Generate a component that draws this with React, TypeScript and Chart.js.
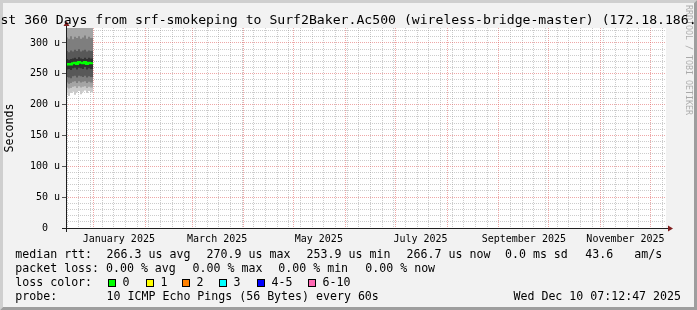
import { useEffect, useRef } from 'react';
import { Chart, registerables } from 'chart.js';

Chart.register(...registerables);

// ---------------- text ----------------
const TITLE = 'Last 360 Days from srf-smokeping to Surf2Baker.Ac500 (wireless-bridge-master) (172.18.186.5)';
const Y_TITLE = 'Seconds';
const WATERMARK = 'RRDTOOL / TOBI OETIKER';

// ---------------- time axis ----------------
const START_UTC = Date.UTC(2024, 11, 15, 7, 12, 47); // now - 360 days
const SPAN_DAYS = 360;
const FIRST_WEEK = '2024-12-16';
const MONTH_GRID = [
  '2025-01-01', '2025-02-01', '2025-03-01', '2025-04-01', '2025-05-01', '2025-06-01',
  '2025-07-01', '2025-08-01', '2025-09-01', '2025-10-01', '2025-11-01', '2025-12-01',
];
const MONTH_LABEL_DATES = ['2025-01-01', '2025-03-01', '2025-05-01', '2025-07-01', '2025-09-01', '2025-11-01'];
const MONTH_LABELS = ['January 2025', 'March 2025', 'May 2025', 'July 2025', 'September 2025', 'November 2025'];
const LABEL_OFFSET_DAYS = 15;

// ---------------- value axis (microseconds) ----------------
const Y_MAX = 324.3;
const Y_TICKS = [0, 10, 20, 30, 40, 50, 60, 70, 80, 90, 100, 110, 120, 130, 140, 150, 160, 170, 180, 190, 200, 210, 220, 230, 240, 250, 260, 270, 280, 290, 300, 310, 320];
const Y_MAJOR = [0, 50, 100, 150, 200, 250, 300];
const Y_LABELS = ['0  ', '50 u', '100 u', '150 u', '200 u', '250 u', '300 u'];

// ---------------- data (days since start, microseconds) ----------------
const SAMPLE_DAY = [0, 1.2, 2.4, 3.6, 4.8, 6.0, 7.2, 8.4, 9.6, 10.8, 12.0, 13.2, 14.4, 15.6, 16.2];
const MEDIAN_RTT = [253, 265, 266, 265, 267, 268, 266, 269, 268, 267, 269, 266, 268, 267, 267];
const PING_10 = [334, 336, 335, 337, 334, 336, 335, 338, 334, 336, 335, 337, 336, 335, 335];
const PING_9 = [327, 330, 329, 331, 328, 330, 331, 329, 330, 328, 331, 329, 330, 329, 329];
const PING_8 = [300, 309, 307, 311, 306, 310, 308, 311, 307, 309, 312, 307, 310, 308, 308];
const PING_7 = [276, 287, 285, 288, 286, 289, 287, 290, 286, 288, 289, 286, 288, 287, 287];
const PING_6 = [262, 274, 273, 274, 275, 276, 274, 277, 275, 274, 276, 274, 276, 275, 275];
const PING_5 = [246, 257, 258, 256, 259, 260, 257, 260, 259, 258, 261, 257, 259, 258, 258];
const PING_4 = [236, 245, 244, 243, 246, 247, 244, 247, 246, 245, 247, 244, 246, 245, 245];
const PING_3 = [227, 236, 234, 235, 237, 238, 235, 238, 236, 237, 238, 235, 237, 236, 236];
const PING_2 = [217, 228, 226, 227, 229, 230, 227, 230, 228, 229, 230, 227, 229, 228, 228];
const PING_1 = [206, 218, 214, 219, 221, 216, 220, 222, 217, 221, 223, 219, 222, 220, 220];

// ---------------- legend ----------------
const MEDIAN_ITEMS = ['266.3 us avg', '270.9 us max', '253.9 us min', '266.7 us now', '0.0 ms sd', '43.6', 'am/s'];
const LOSS_ITEMS = ['0.00 % avg', '0.00 % max', '0.00 % min', '0.00 % now'];
const LOSS_LABELS = ['0', '1', '2', '3', '4-5', '6-10'];
const LOSS_COLORS = ['#00ff00', '#ffff00', '#ff8000', '#00ffff', '#0000ff', '#ff69b4'];
const PROBE_TEXT = '10 ICMP Echo Pings (56 Bytes) every 60s';
const TIMESTAMP = 'Wed Dec 10 07:12:47 2025';

// ---------------- styles ----------------
const MONO = '"DejaVu Sans Mono", monospace';
const GRID = 'rgba(143,143,143,0.45)';
const MGRID = 'rgba(222,79,79,0.5)';
const SMOKE = ['#cacaca', '#a4a4a4', '#7e7e7e', '#585858', '#323232'];

const dayOf = (iso: string) => (Date.parse(iso + 'T00:00:00Z') - START_UTC) / 86400000;
const key = (v: number) => v.toFixed(3);

const tickType = new Map<string, string>();
const tickLabel = new Map<string, string>();
const xTicks: number[] = [];
for (let d = dayOf(FIRST_WEEK); d < SPAN_DAYS; d += 7) {
  tickType.set(key(d), 'minor');
}
MONTH_GRID.forEach((m) => tickType.set(key(dayOf(m)), 'major'));
MONTH_LABEL_DATES.forEach((m, i) => {
  const v = dayOf(m) + LABEL_OFFSET_DAYS;
  if (!tickType.has(key(v))) tickType.set(key(v), 'label');
  tickLabel.set(key(v), MONTH_LABELS[i]);
});
tickType.forEach((_t, k) => xTicks.push(parseFloat(k)));
xTicks.sort((a, b) => a - b);

const pts = (arr: number[]) => SAMPLE_DAY.map((d, i) => ({ x: d, y: arr[i] }));
const edge = (arr: number[], color: string | null) => ({
  data: pts(arr),
  borderWidth: 0,
  borderColor: 'rgba(0,0,0,0)',
  pointRadius: 0,
  stepped: 'after' as const,
  fill: color ? '+1' : false,
  backgroundColor: color || 'rgba(0,0,0,0)',
});

const rrdPlugin = {
  id: 'rrdFrame',
  beforeDraw(chart: any) {
    const { ctx, width: w, height: h, chartArea: a } = chart;
    const b = 3;
    ctx.save();
    ctx.fillStyle = '#f2f2f2';
    ctx.fillRect(0, 0, w, h);
    ctx.fillStyle = '#cfcfcf';
    ctx.beginPath();
    ctx.moveTo(0, h); ctx.lineTo(b, h - b); ctx.lineTo(b, b); ctx.lineTo(w - b, b); ctx.lineTo(w, 0); ctx.lineTo(0, 0);
    ctx.closePath(); ctx.fill();
    ctx.fillStyle = '#9e9e9e';
    ctx.beginPath();
    ctx.moveTo(b, h - b); ctx.lineTo(w - b, h - b); ctx.lineTo(w - b, b); ctx.lineTo(w, 0); ctx.lineTo(w, h); ctx.lineTo(0, h);
    ctx.closePath(); ctx.fill();
    ctx.fillStyle = '#ffffff';
    ctx.fillRect(a.left, a.top, a.right - a.left, a.bottom - a.top);
    ctx.restore();
  },
  afterDatasetsDraw(chart: any) {
    const { ctx, chartArea: a } = chart;
    const L = Math.round(a.left), R = Math.round(a.right), T = Math.round(a.top), B = Math.round(a.bottom);
    ctx.save();
    ctx.strokeStyle = 'rgb(31,31,31)';
    ctx.lineWidth = 1;
    ctx.beginPath();
    ctx.moveTo(L - 4, B + 0.5); ctx.lineTo(R + 4, B + 0.5);
    ctx.moveTo(L + 0.5, B + 4); ctx.lineTo(L + 0.5, T - 4);
    ctx.stroke();
    ctx.fillStyle = 'rgb(128,31,31)';
    ctx.beginPath();
    ctx.moveTo(R + 2, B + 0.5 - 3); ctx.lineTo(R + 2, B + 0.5 + 3); ctx.lineTo(R + 7, B + 0.5);
    ctx.closePath(); ctx.fill();
    ctx.beginPath();
    ctx.moveTo(L + 0.5 - 3, T - 2); ctx.lineTo(L + 0.5 + 3, T - 2); ctx.lineTo(L + 0.5, T - 7);
    ctx.closePath(); ctx.fill();
    ctx.restore();
  },
  afterDraw(chart: any) {
    const { ctx, width: w, chartArea: a } = chart;
    ctx.save();
    ctx.fillStyle = '#000';
    // title
    ctx.font = `13.15px ${MONO}`;
    ctx.textAlign = 'center';
    ctx.textBaseline = 'alphabetic';
    ctx.fillText(TITLE, w / 2, 24);
    // y title
    ctx.font = `11.6px ${MONO}`;
    ctx.save();
    ctx.translate(10, (a.top + a.bottom) / 2);
    ctx.rotate(-Math.PI / 2);
    ctx.textBaseline = 'middle';
    ctx.fillText(Y_TITLE, 0, 0);
    ctx.restore();
    // watermark
    ctx.save();
    ctx.fillStyle = 'rgba(0,0,0,0.3)';
    ctx.font = `8.3px ${MONO}`;
    ctx.translate(688, 5);
    ctx.rotate(Math.PI / 2);
    ctx.textAlign = 'left';
    ctx.textBaseline = 'middle';
    ctx.fillText(WATERMARK, 0, 0);
    ctx.restore();
    // legend
    ctx.font = `11.6px ${MONO}`;
    ctx.textAlign = 'left';
    ctx.textBaseline = 'alphabetic';
    const y1 = 258.3, y2 = 272.3, y3 = 286.3, y4 = 300.3;
    const x0 = 15.3;
    ctx.fillText('median rtt:', x0, y1);
    const mx = [106.6, 206.6, 306.6, 406.6, 505, 585.3, 634.3];
    MEDIAN_ITEMS.forEach((t, i) => ctx.fillText(t, mx[i], y1));
    ctx.fillText('packet loss:', x0, y2);
    const lx = [106, 192.6, 278.3, 365.3];
    LOSS_ITEMS.forEach((t, i) => ctx.fillText(t, lx[i], y2));
    ctx.fillText('loss color:', x0, y3);
    const bx = [108, 146, 182, 219, 257, 308];
    LOSS_LABELS.forEach((t, i) => {
      ctx.fillStyle = LOSS_COLORS[i];
      ctx.fillRect(bx[i], 279, 8, 8);
      ctx.strokeStyle = '#000';
      ctx.lineWidth = 1;
      ctx.strokeRect(bx[i] + 0.5, 279.5, 7, 7);
      ctx.fillStyle = '#000';
      ctx.fillText(t, bx[i] + 14.6, y3);
    });
    ctx.fillText('probe:', x0, y4);
    ctx.fillText(PROBE_TEXT, 106.6, y4);
    ctx.textAlign = 'right';
    ctx.fillText(TIMESTAMP, 681, y4);
    ctx.restore();
  },
};

export default function App() {
  const ref = useRef<HTMLCanvasElement>(null);
  useEffect(() => {
    const canvas = ref.current;
    if (!canvas) return;
    const chart = new Chart(canvas, {
      type: 'line',
      data: {
        datasets: [
          {
            data: pts(MEDIAN_RTT),
            borderColor: '#00ff00',
            borderWidth: 2,
            pointRadius: 0,
            stepped: 'after',
            fill: false,
          } as any,
          edge(PING_6, SMOKE[4]), edge(PING_5, null),
          edge(PING_7, SMOKE[3]), edge(PING_4, null),
          edge(PING_8, SMOKE[2]), edge(PING_3, null),
          edge(PING_9, SMOKE[1]), edge(PING_2, null),
          edge(PING_10, SMOKE[0]), edge(PING_1, null),
        ],
      },
      options: {
        animation: false,
        responsive: false,
        devicePixelRatio: 1,
        events: [],
        layout: { padding: { left: 0, top: 28, right: 31, bottom: 0 } },
        plugins: {
          legend: { display: false },
          title: { display: false },
          tooltip: { enabled: false },
        },
        scales: {
          x: {
            type: 'linear',
            min: 0,
            max: SPAN_DAYS,
            afterBuildTicks: (s: any) => { s.ticks = xTicks.map((v) => ({ value: v })); },
            afterFit: (s: any) => { s.height = 82; },
            grid: {
              drawTicks: false,
              lineWidth: 1,
              color: (c: any) => {
                const t = c.tick ? tickType.get(key(c.tick.value)) : undefined;
                return t === 'major' ? MGRID : t === 'minor' ? GRID : 'rgba(0,0,0,0)';
              },
            },
            border: { display: false, dash: [1, 1] },
            ticks: {
              autoSkip: false,
              maxRotation: 0,
              minRotation: 0,
              padding: 5,
              color: '#000',
              font: { family: MONO, size: 10 },
              callback: (v: any) => tickLabel.get(key(Number(v))) || '',
            },
          },
          y: {
            type: 'linear',
            min: 0,
            max: Y_MAX,
            afterBuildTicks: (s: any) => { s.ticks = Y_TICKS.map((v) => ({ value: v })); },
            afterFit: (s: any) => { s.width = 66; },
            grid: {
              drawTicks: true,
              tickLength: 4,
              lineWidth: 1,
              color: (c: any) => (c.tick && Y_MAJOR.includes(c.tick.value) ? MGRID : GRID),
              tickColor: (c: any) => (c.tick && Y_MAJOR.includes(c.tick.value) ? '#555' : 'rgba(0,0,0,0)'),
            },
            border: { display: false, dash: [1, 1] },
            ticks: {
              autoSkip: false,
              padding: 2,
              color: '#000',
              font: { family: MONO, size: 10 },
              callback: (v: any) => {
                const i = Y_MAJOR.indexOf(Number(v));
                return i >= 0 ? Y_LABELS[i] : '';
              },
            },
          },
        },
      } as any,
      plugins: [rrdPlugin],
    });
    return () => chart.destroy();
  }, []);
  return (
    <div style={{ position: 'absolute', left: 0, top: 0, width: 697, height: 310 }}>
      <canvas ref={ref} width={697} height={310} style={{ display: 'block', width: 697, height: 310 }} />
    </div>
  );
}
